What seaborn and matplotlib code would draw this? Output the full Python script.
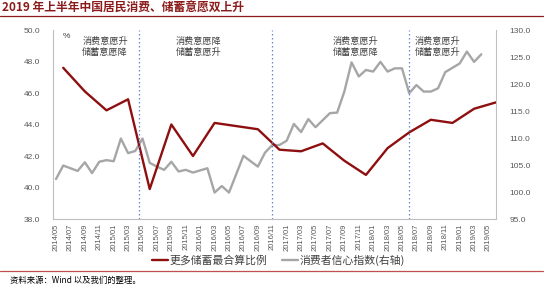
import numpy as np
import pandas as pd
import matplotlib
matplotlib.use("Agg")
import matplotlib.pyplot as plt
import seaborn as sns

# ---------------- data ----------------
months = [p.strftime("%Y/%m") for p in pd.period_range("2014-05", "2019-06", freq="M")]

saving_months = ["2014/06", "2014/09", "2014/12", "2015/03", "2015/06", "2015/09", "2015/12",
                 "2016/03", "2016/06", "2016/09", "2016/12", "2017/03", "2017/06", "2017/09",
                 "2017/12", "2018/03", "2018/06", "2018/09", "2018/12", "2019/03", "2019/06"]
saving_ratio = [47.6, 46.1, 44.9, 45.6, 39.9, 44.0, 42.0,
                44.1, 43.9, 43.7, 42.4, 42.3, 42.8, 41.7,
                40.8, 42.5, 43.5, 44.3, 44.1, 45.0, 45.4]

cci_months = months[:60]  # 2014/05 .. 2019/04
cci_values = [102.4, 104.9, 104.4, 103.9, 105.5, 103.5, 105.6, 105.9, 105.7, 109.9,
              107.2, 107.6, 109.9, 105.4, 104.7, 104.1, 105.6, 103.8, 104.1, 103.6,
              104.0, 104.4, 99.9, 101.1, 99.9, 103.3, 106.7, 105.7, 104.7, 107.3,
              108.7, 108.7, 109.5, 112.6, 111.1, 113.5, 112.0, 113.3, 114.6, 114.7,
              118.6, 124.0, 121.4, 122.6, 122.3, 124.1, 122.3, 122.9, 122.9, 118.3,
              119.8, 118.6, 118.6, 119.2, 122.2, 123.0, 123.8, 126.0, 124.1, 125.5]

phase_breaks = [11.5, 30, 49]  # month positions of the dotted separators
phase_labels = ["消费意愿升\n储蓄意愿降", "消费意愿降\n储蓄意愿升",
                "消费意愿升\n储蓄意愿降", "消费意愿升\n储蓄意愿升"]
phase_label_x = [6.8, 19.8, 41.6, 52.9]

title = "2019 年上半年中国居民消费、储蓄意愿双上升"
source = "资料来源：Wind 以及我们的整理。"
red_name = "更多储蓄最合算比例"
gray_name = "消费者信心指数(右轴)"

# ---------------- style ----------------
sns.set_style("white")
plt.rcParams['font.family'] = ['Noto Sans CJK SC', 'DejaVu Sans']

RED = "#8e0f0f"
GRAY = "#a6a6a6"
TXT = "#404040"

pos = {m: i for i, m in enumerate(months)}
df_red = pd.DataFrame({"x": [pos[m] for m in saving_months], "y": saving_ratio})
df_gray = pd.DataFrame({"x": [pos[m] for m in cci_months], "y": cci_values})

fig = plt.figure(figsize=(5.5, 2.91), dpi=100)
ax = fig.add_axes([0.0958, 0.2474, 0.9013 - 0.0958, 0.8969 - 0.2474])
ax2 = ax.twinx()

sns.lineplot(data=df_gray, x="x", y="y", ax=ax2, color=GRAY, linewidth=1.7, label=gray_name, legend=False)
sns.lineplot(data=df_red, x="x", y="y", ax=ax, color=RED, linewidth=1.7, label=red_name, legend=False)
ax.set_zorder(ax2.get_zorder() + 1)
ax.patch.set_visible(False)

for b in phase_breaks:
    ax.axvline(b, color="#5b8bd6", linestyle=(0, (1.2, 2)), linewidth=0.9)

for lx, t in zip(phase_label_x, phase_labels):
    ax.text(lx, 49.6, t, ha="center", va="top", fontsize=6.6, color=TXT, linespacing=1.35)

ax.text(1.4, 49.8, "%", fontsize=6, color=TXT, ha="center", va="top", family=["Liberation Sans"])

ax.set_xlim(-0.46, 61)
ax.set_ylim(38, 50)
ax.set_yticks(np.arange(38, 50.1, 2))
ax.set_yticklabels([f"{v:.1f}" for v in np.arange(38, 50.1, 2)], fontsize=6, color="#595959",
                   family=["Liberation Sans"])
ax2.set_ylim(95, 130)
ax2.set_yticks(np.arange(95, 130.1, 5))
ax2.set_yticklabels([f"{v:.1f}" for v in np.arange(95, 130.1, 5)], fontsize=6, color="#595959",
                    family=["Liberation Sans"])
ax.set_xticks(range(0, 61, 2))
ax.set_xticklabels(months[0:61:2], rotation=90, fontsize=5.5, color="#595959",
                   family=["Liberation Sans"])
ax.tick_params(axis="both", length=0, pad=3)
ax2.tick_params(axis="both", length=0, pad=10)
ax.tick_params(axis="y", pad=9)
for a in (ax, ax2):
    a.set_xlabel("")
    a.set_ylabel("")
    a.spines["top"].set_visible(False)
    for s in ("left", "right", "bottom"):
        a.spines[s].set_color("#bfbfbf")
        a.spines[s].set_linewidth(0.8)
ax.spines["right"].set_visible(False)
ax2.spines["left"].set_visible(False)
ax2.spines["bottom"].set_visible(False)
ax.grid(False)
ax2.grid(False)

h1, l1 = ax.get_legend_handles_labels()
h2, l2 = ax2.get_legend_handles_labels()
fig.legend(h1 + h2, l1 + l2, loc="center", bbox_to_anchor=(0.506, 1 - 260 / 291), ncol=2,
           frameon=False, fontsize=7.8, handlelength=1.5, handletextpad=0.15, columnspacing=1.3,
           labelcolor=TXT)

# title and rules
fig.text(0.004, 1 - 8 / 291, title, fontsize=8.5, fontweight="bold", color="#8b1a1a", va="center", ha="left")
fig.add_artist(plt.Line2D([0.0, 0.988], [1 - 15.5 / 291, 1 - 15.5 / 291], color="#8b1a1a", linewidth=0.9))
fig.add_artist(plt.Line2D([0.0, 0.988], [1 - 271 / 291, 1 - 271 / 291], color="#c0504d", linewidth=0.9))
fig.text(0.018, 1 - 280 / 291, source, fontsize=6, style="italic", color="#000000", va="center", ha="left")

fig.savefig("out.png", dpi=100)
